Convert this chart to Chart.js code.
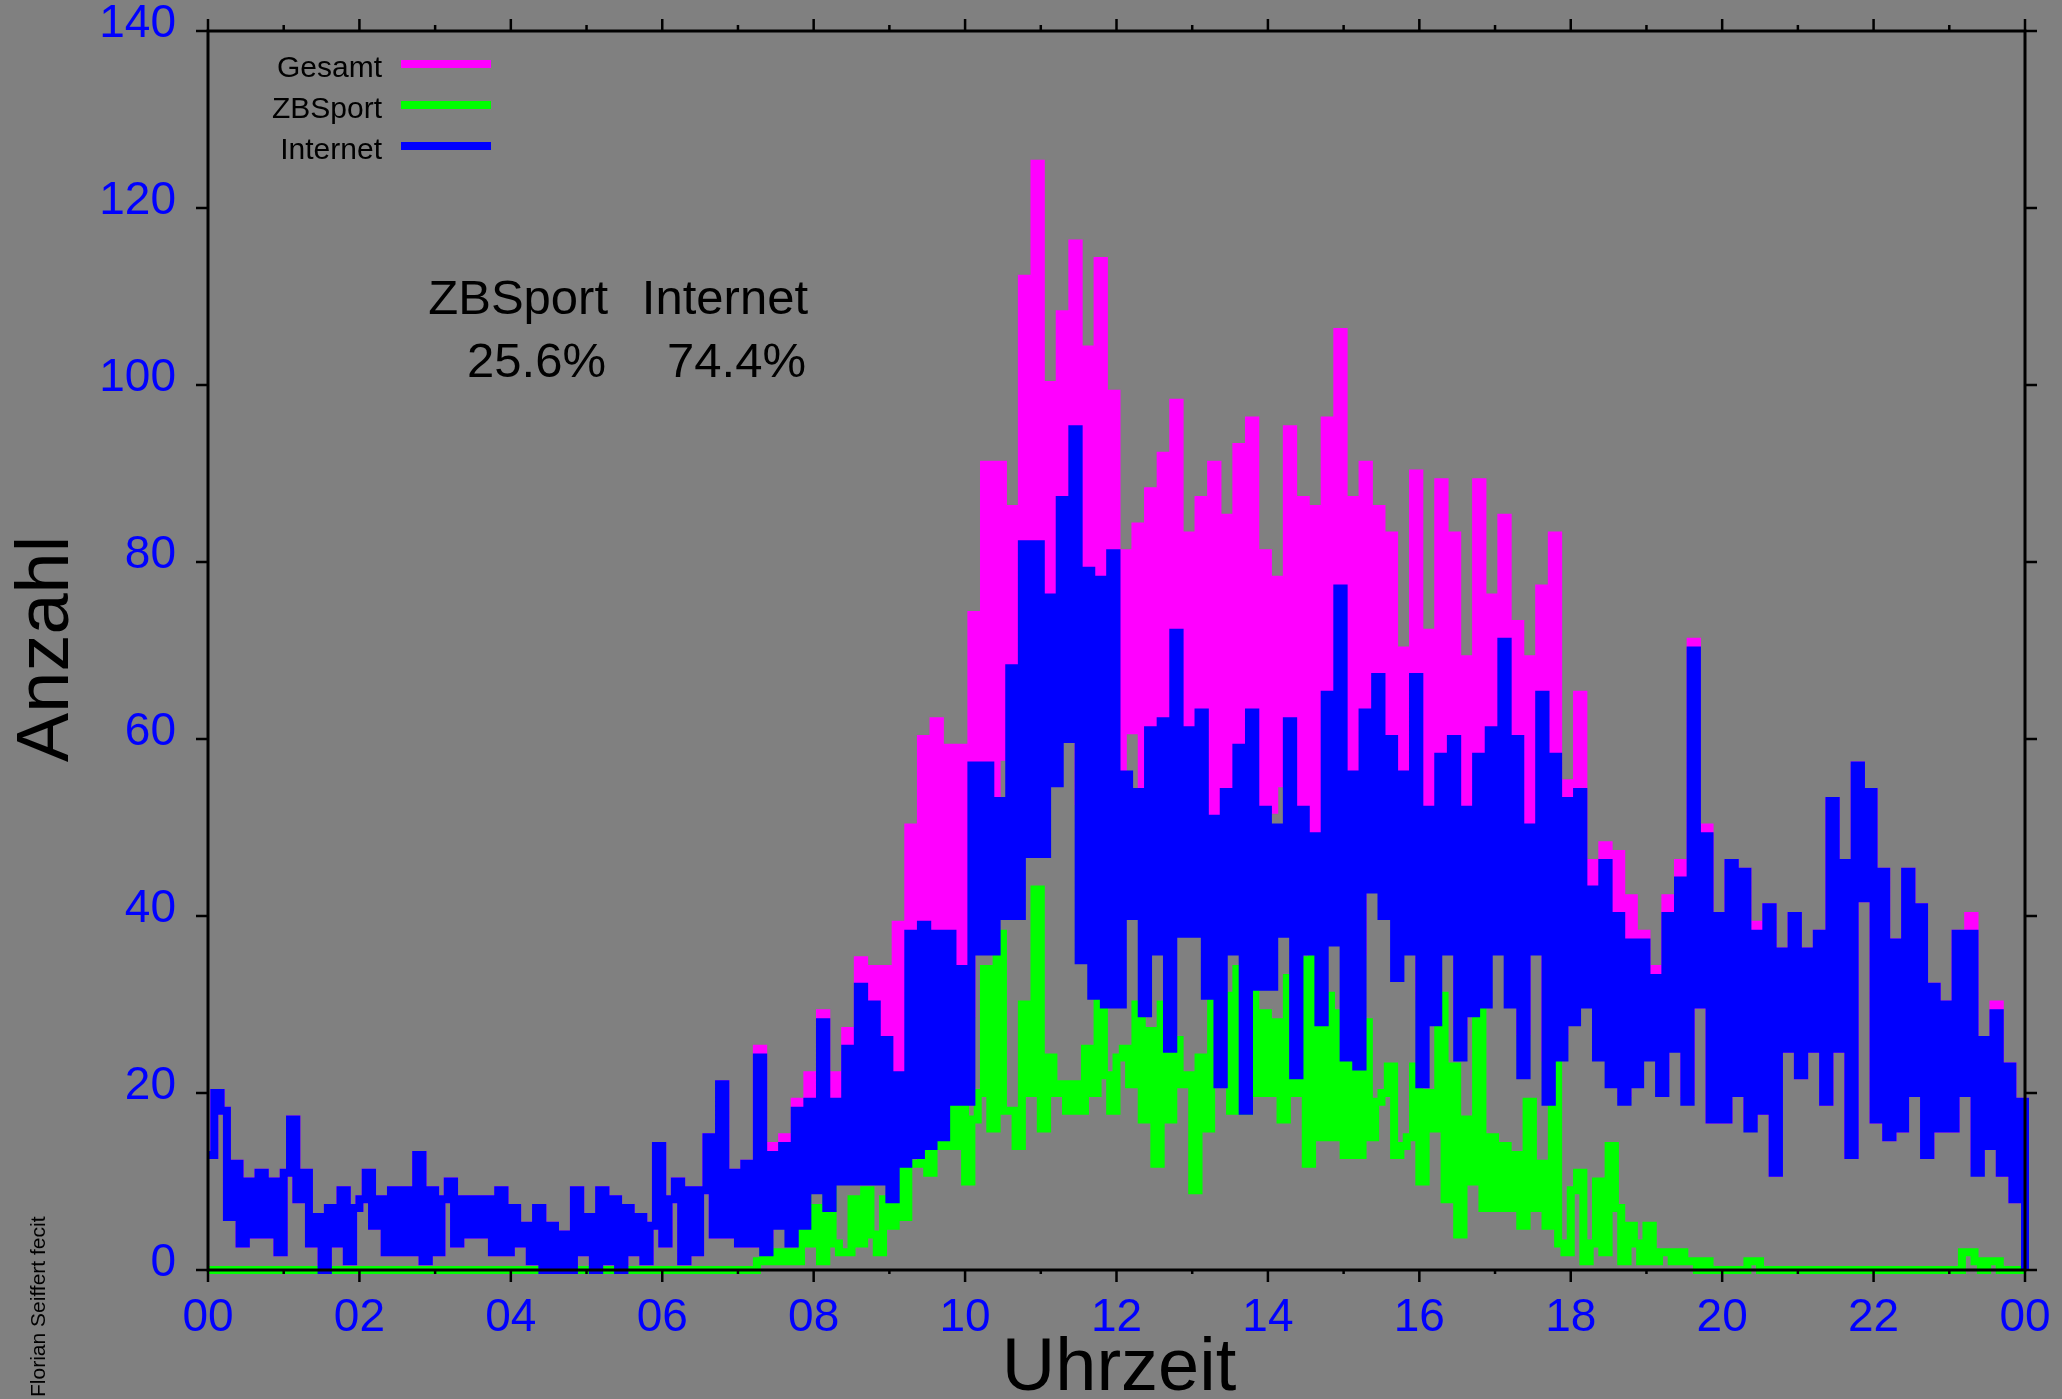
<!DOCTYPE html>
<html>
<head>
<meta charset="utf-8">
<title>Anzahl je Uhrzeit</title>
<script src="https://cdn.jsdelivr.net/npm/chart.js@4.4.1/dist/chart.umd.min.js"></script>
<style>
  html, body { margin: 0; padding: 0; background: #808080; }
  #wrap { width: 2062px; height: 1399px; }
</style>
</head>
<body>
<div id="wrap"><canvas id="chart" width="2062" height="1399"></canvas></div>
<script>
// time axis in minutes, one value every 5 minutes (00:00 .. 24:00)
const minutes = [];
for (let m = 0; m <= 1440; m += 5) minutes.push(m);

const hourLabels = ['00', '02', '04', '06', '08', '10', '12', '14', '16', '18', '20', '22', '00'];

// one row per hour, 12 values each (last row also has 24:00)
const internet = [
  13, 20, 18, 6, 12, 3, 10, 4, 11, 4, 10, 2,
  11, 17, 8, 11, 3, 6, 0, 7, 3, 9, 1, 7,
  8, 11, 5, 8, 2, 9, 2, 9, 2, 13, 1, 9,
  2, 8, 10, 3, 8, 4, 8, 4, 8, 2, 9, 2,
  7, 3, 5, 1, 7, 0, 5, 0, 4, 0, 9, 2,
  6, 0, 9, 1, 8, 0, 7, 2, 6, 1, 5, 14,
  3, 8, 10, 1, 9, 2, 9, 15, 4, 21, 4, 11,
  3, 12, 3, 24, 2, 13, 5, 14, 3, 18, 5, 19,
  9, 28, 7, 19, 10, 25, 10, 32, 10, 30, 10, 26,
  8, 22, 12, 38, 13, 39, 14, 38, 15, 38, 19, 34,
  19, 57, 36, 57, 36, 53, 40, 68, 40, 82, 47, 82,
  47, 76, 55, 87, 60, 95, 35, 79, 31, 78, 30, 81,
  30, 56, 40, 54, 29, 61, 36, 62, 25, 72, 38, 61,
  38, 63, 31, 51, 21, 54, 36, 59, 18, 63, 32, 52,
  32, 50, 38, 62, 22, 52, 36, 49, 28, 65, 37, 77,
  24, 56, 23, 63, 43, 67, 40, 60, 33, 56, 36, 67,
  21, 52, 28, 58, 36, 60, 24, 52, 29, 58, 30, 61,
  36, 71, 30, 60, 22, 50, 36, 65, 19, 58, 24, 53,
  28, 54, 30, 43, 24, 46, 21, 40, 19, 37, 21, 37,
  24, 33, 20, 40, 25, 44, 19, 70, 30, 49, 17, 40,
  17, 46, 20, 45, 16, 38, 18, 41, 11, 36, 25, 40,
  22, 36, 25, 38, 19, 53, 25, 46, 13, 57, 42, 54,
  17, 45, 15, 37, 16, 45, 20, 41, 13, 32, 16, 30,
  16, 38, 20, 38, 11, 26, 14, 29, 11, 23, 8, 19, 0
];

const zbsport = [
  0, 0, 0, 0, 0, 0, 0, 0, 0, 0, 0, 0,
  0, 0, 0, 0, 0, 0, 0, 0, 0, 0, 0, 0,
  0, 0, 0, 0, 0, 0, 0, 0, 0, 0, 0, 0,
  0, 0, 0, 0, 0, 0, 0, 0, 0, 0, 0, 0,
  0, 0, 0, 0, 0, 0, 0, 0, 0, 0, 0, 0,
  0, 0, 0, 0, 0, 0, 0, 0, 0, 0, 0, 0,
  0, 0, 0, 0, 0, 0, 0, 0, 0, 0, 0, 0,
  0, 0, 0, 1, 2, 1, 2, 1, 2, 1, 9, 3,
  7, 1, 9, 3, 2, 2, 8, 3, 9, 4, 2, 8,
  5, 17, 6, 12, 12, 21, 11, 24, 14, 21, 14, 25,
  10, 17, 20, 34, 16, 38, 18, 18, 14, 30, 20, 43,
  16, 24, 20, 21, 18, 21, 18, 25, 20, 36, 22, 18,
  24, 25, 21, 30, 17, 27, 12, 30, 17, 26, 21, 22,
  9, 24, 16, 40, 22, 31, 18, 34, 18, 33, 20, 29,
  20, 28, 17, 33, 20, 35, 12, 37, 15, 31, 15, 29,
  13, 31, 13, 28, 15, 19, 20, 23, 13, 14, 15, 23,
  10, 20, 16, 31, 8, 23, 4, 17, 10, 31, 7, 15,
  7, 14, 7, 13, 5, 19, 7, 12, 5, 25, 3, 2,
  9, 11, 1, 3, 10, 2, 14, 7, 1, 5, 3, 1,
  5, 1, 2, 2, 1, 2, 1, 1, 0, 1, 0, 0,
  0, 0, 0, 0, 1, 1, 0, 0, 0, 0, 0, 0,
  0, 0, 0, 0, 0, 0, 0, 0, 0, 0, 0, 0,
  0, 0, 0, 0, 0, 0, 0, 0, 0, 0, 0, 0,
  0, 0, 2, 2, 1, 0, 1, 1, 0, 0, 0, 0, 0
];

const gesamt = [
  13, 20, 18, 6, 12, 3, 10, 4, 11, 4, 10, 2,
  11, 17, 8, 11, 3, 6, 0, 7, 3, 9, 1, 7,
  8, 11, 5, 8, 2, 9, 2, 9, 2, 13, 1, 9,
  2, 8, 10, 3, 8, 4, 8, 4, 8, 2, 9, 2,
  7, 3, 5, 1, 7, 0, 5, 0, 4, 0, 9, 2,
  6, 0, 9, 1, 8, 0, 7, 2, 6, 1, 5, 14,
  3, 8, 10, 1, 9, 2, 9, 15, 4, 21, 4, 11,
  3, 12, 3, 25, 4, 14, 7, 15, 5, 19, 14, 22,
  16, 29, 16, 22, 12, 27, 18, 35, 19, 34, 12, 34,
  13, 39, 18, 50, 25, 60, 25, 62, 29, 59, 33, 59,
  29, 74, 56, 91, 52, 91, 58, 86, 54, 112, 67, 125,
  63, 100, 75, 108, 78, 116, 53, 104, 51, 114, 52, 99,
  54, 81, 61, 84, 46, 88, 48, 92, 42, 98, 59, 83,
  47, 87, 47, 91, 43, 85, 54, 93, 36, 96, 52, 81,
  52, 78, 55, 95, 42, 87, 48, 86, 43, 96, 52, 106,
  37, 87, 36, 91, 58, 86, 60, 83, 46, 70, 51, 90,
  31, 72, 44, 89, 44, 83, 28, 69, 39, 89, 37, 76,
  43, 85, 37, 73, 27, 69, 43, 77, 24, 83, 27, 55,
  37, 65, 31, 46, 34, 48, 35, 47, 20, 42, 24, 38,
  29, 34, 22, 42, 26, 46, 20, 71, 30, 50, 17, 40,
  17, 46, 20, 45, 17, 39, 18, 41, 11, 36, 25, 40,
  22, 36, 25, 38, 19, 53, 25, 46, 13, 57, 42, 54,
  17, 45, 15, 37, 16, 45, 20, 41, 13, 32, 16, 30,
  16, 38, 22, 40, 12, 26, 15, 30, 11, 23, 8, 19, 0
];

const shareLabels = ['ZBSport', 'Internet'];
const shareValues = ['25.6%', '74.4%'];

const FONT = "'Liberation Sans', Arial, sans-serif";
const MAGENTA = '#ff00ff', GREEN = '#00ff00', BLUE = '#0000ff';

const seriesStyle = {
    stepped: true,
    borderWidth: 8,
    pointRadius: 0,
    fill: false,
    clip: false,
    borderJoinStyle: 'miter',
    borderCapStyle: 'butt'
};

// grey page background
const background = {
    id: 'background',
    beforeDraw(chart) {
        const ctx = chart.ctx;
        ctx.save();
        ctx.fillStyle = '#808080';
        ctx.fillRect(0, 0, chart.width, chart.height);
        ctx.restore();
    }
};

// black frame with outward ticks on all four sides
const frame = {
    id: 'frame',
    afterDatasetsDraw(chart) {
        const { ctx, chartArea: a, scales: { x, y } } = chart;
        ctx.save();
        ctx.strokeStyle = '#000';
        ctx.lineWidth = 3;
        ctx.strokeRect(a.left, a.top, a.right - a.left, a.bottom - a.top);
        ctx.lineWidth = 2.5;
        ctx.beginPath();
        for (let v = 0; v <= 140; v += 20) {
            const py = y.getPixelForValue(v);
            ctx.moveTo(a.left - 12, py); ctx.lineTo(a.left, py);
            ctx.moveTo(a.right, py); ctx.lineTo(a.right + 12, py);
        }
        for (let h = 0; h <= 24; h++) {
            const px = x.getPixelForValue(h * 60);
            const major = h % 2 === 0;
            ctx.moveTo(px, a.top - (major ? 12 : 6)); ctx.lineTo(px, a.top);
            ctx.moveTo(px, a.bottom); ctx.lineTo(px, a.bottom + (major ? 12 : 4));
        }
        ctx.stroke();
        ctx.restore();
    }
};

// legend, share table, axis titles, signature
const texts = {
    id: 'texts',
    afterDraw(chart) {
        const ctx = chart.ctx;
        ctx.save();
        ctx.fillStyle = '#000';

        const legend = [['Gesamt', MAGENTA], ['ZBSport', GREEN], ['Internet', BLUE]];
        ctx.font = '30px ' + FONT;
        ctx.textAlign = 'right';
        ctx.textBaseline = 'alphabetic';
        legend.forEach(([name, color], i) => {
            ctx.fillStyle = '#000';
            ctx.fillText(name, 382, 77 + i * 41);
            ctx.fillStyle = color;
            ctx.fillRect(401, 60 + i * 41, 90, 8);
        });

        ctx.fillStyle = '#000';
        ctx.font = '49px ' + FONT;
        ctx.fillText(shareLabels[0], 608, 314);
        ctx.fillText(shareLabels[1], 808, 314);
        ctx.fillText(shareValues[0], 606, 377);
        ctx.fillText(shareValues[1], 806, 377);

        ctx.font = '74px ' + FONT;
        ctx.textAlign = 'center';
        ctx.fillText('Uhrzeit', 1119, 1390);

        ctx.save();
        ctx.translate(68, 649);
        ctx.rotate(-Math.PI / 2);
        ctx.fillText('Anzahl', 0, 0);
        ctx.restore();

        ctx.save();
        ctx.translate(45, 1397);
        ctx.rotate(-Math.PI / 2);
        ctx.font = '21px ' + FONT;
        ctx.textAlign = 'left';
        ctx.fillText('Florian Seiffert fecit', 0, 0);
        ctx.restore();

        ctx.restore();
    }
};

const chart = new Chart(document.getElementById('chart'), {
    type: 'line',
    data: {
        labels: minutes,
        datasets: [
            { label: 'Gesamt', data: gesamt, borderColor: MAGENTA, backgroundColor: MAGENTA, order: 3, ...seriesStyle },
            { label: 'ZBSport', data: zbsport, borderColor: GREEN, backgroundColor: GREEN, order: 2, ...seriesStyle },
            { label: 'Internet', data: internet, borderColor: BLUE, backgroundColor: BLUE, order: 1, ...seriesStyle }
        ]
    },
    options: {
        responsive: false,
        devicePixelRatio: 1,
        animation: false,
        layout: { padding: { left: 0, top: 31, right: 37, bottom: 0 } },
        plugins: {
            legend: { display: false },
            tooltip: { enabled: false }
        },
        scales: {
            x: {
                type: 'linear',
                min: 0,
                max: 1440,
                afterFit(s) {
                    s.height = 129;
                    s.paddingLeft = 0;
                    s.paddingRight = 0;
                },
                grid: { display: false, drawTicks: false },
                border: { display: false },
                ticks: {
                    stepSize: 120,
                    autoSkip: false,
                    maxRotation: 0,
                    padding: 21,
                    color: BLUE,
                    font: { family: FONT, size: 46 },
                    callback: (v, i) => hourLabels[i]
                }
            },
            y: {
                min: 0,
                max: 140,
                afterFit(s) {
                    s.width = 208;
                    s.paddingTop = 0;
                    s.paddingBottom = 0;
                },
                grid: { display: false, drawTicks: false },
                border: { display: false },
                ticks: {
                    stepSize: 20,
                    padding: 32,
                    labelOffset: -7,
                    color: BLUE,
                    font: { family: FONT, size: 46 }
                }
            }
        }
    },
    plugins: [background, frame, texts]
});
</script>
</body>
</html>
